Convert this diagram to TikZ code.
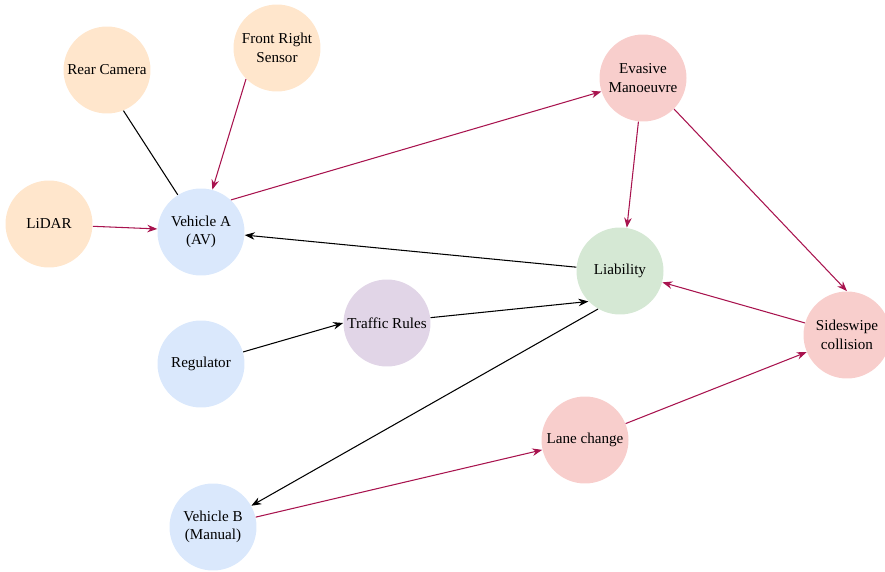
\documentclass[tikz,border=0pt]{standalone}
\usepackage{fontspec}
\setmainfont{Liberation Serif}
\usetikzlibrary{arrows.meta}
\definecolor{peach}{HTML}{FFE6CC}
\definecolor{sky}{HTML}{DAE8FC}
\definecolor{rose}{HTML}{F8CECC}
\definecolor{mint}{HTML}{D5E8D4}
\definecolor{lilac}{HTML}{E1D5E7}
\definecolor{crimson}{HTML}{A8134E}
\tikzset{
  ent/.style={circle,minimum size=1.74cm,inner sep=0pt,align=center,
    font=\fontsize{8.6}{10.5}\selectfont},
  >={Stealth[length=2mm,width=1.5mm]},
  redline/.style={->,crimson,line width=0.6pt},
  blkline/.style={->,black,line width=0.6pt}
}
\begin{document}
\begin{tikzpicture}[x=0.02cm,y=-0.02cm]
      \useasboundingbox (0,0) rectangle (885,571);
      \node[ent,fill=peach] (cam) at (107,70) {Rear Camera};
      \node[ent,fill=peach] (frs) at (277,48) {Front Right\\Sensor};
      \node[ent,fill=peach] (lidar) at (49,224) {LiDAR};
      \node[ent,fill=sky] (va) at (201,232) {Vehicle A\\(AV)};
      \node[ent,fill=rose] (evas) at (643,78) {Evasive\\Manoeuvre};
      \node[ent,fill=mint] (liab) at (620,271) {Liability};
      \node[ent,fill=lilac] (rules) at (387,323) {Traffic Rules};
      \node[ent,fill=sky] (reg) at (201,364) {Regulator};
      \node[ent,fill=rose] (swipe) at (847,335) {Sideswipe\\collision};
      \node[ent,fill=rose] (lane) at (585,440) {Lane change};
      \node[ent,fill=sky] (vb) at (213,527) {Vehicle B\\(Manual)};

      \draw[black,line width=0.6pt] (cam.-68) -- (va.122);
      \draw[redline] (frs.225) -- (va.75);
      \draw[redline] (lidar.-3) -- (va.176);
      \draw[redline] (va.47) -- (evas.198);
      \draw[blkline] (liab.175) -- (va.-4);
      \draw[redline] (evas.264) -- (liab.81);
      \draw[redline] (evas.-45) -- (swipe.90);
      \draw[redline] (swipe.164) -- (liab.-15);
      \draw[blkline] (reg.16) -- (rules.180);
      \draw[blkline] (rules.7) -- (liab.224);
      \draw[blkline] (liab.240) -- (vb.29);
      \draw[redline] (vb.13) -- (lane.193);
      \draw[redline] (lane.22) -- (swipe.203);
    \end{tikzpicture}
\end{document}
